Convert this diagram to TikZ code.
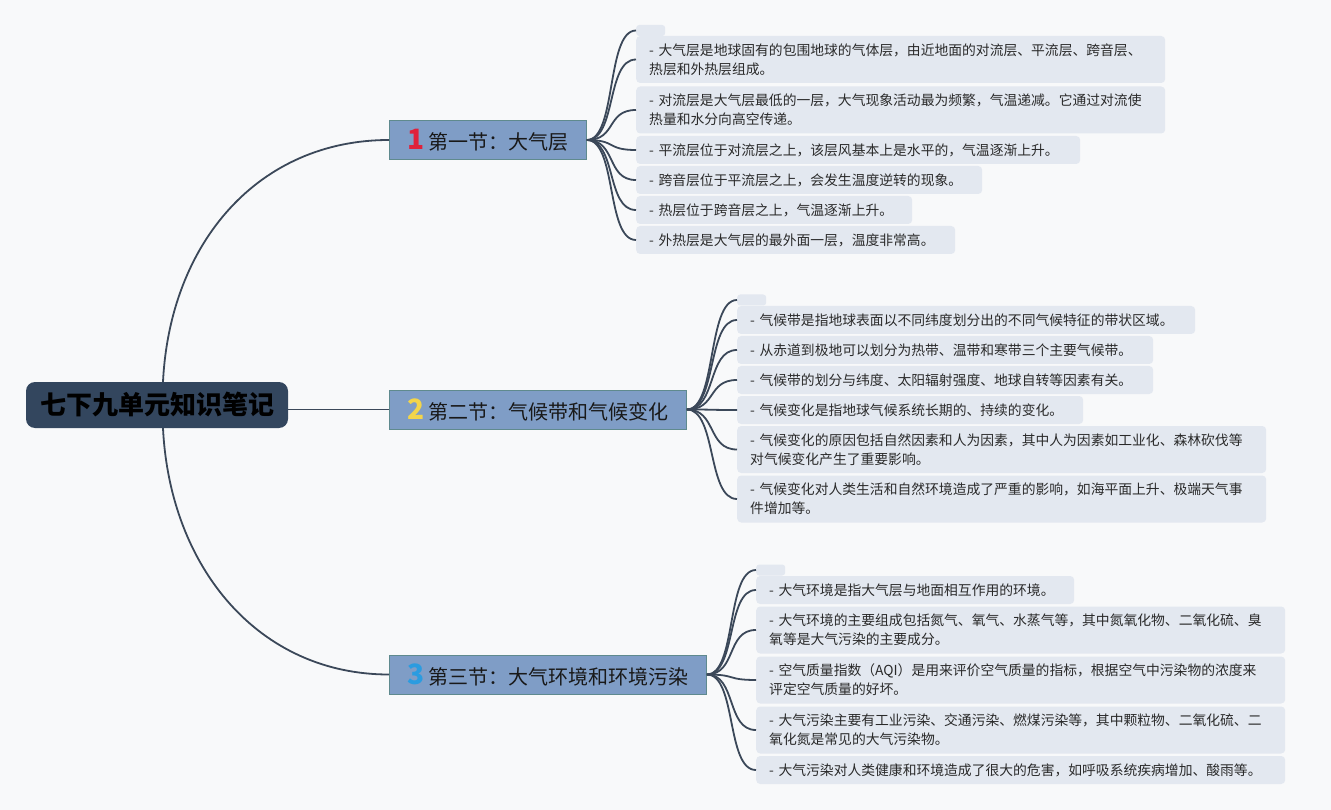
\documentclass[tikz,border=0pt]{standalone}
\usepackage{fontspec}
\setmainfont{Noto Sans CJK SC}
\usepackage{tikz}

\definecolor{pagebg}{HTML}{F8F9FA}
\definecolor{rootfill}{HTML}{33465E}
\definecolor{secfill}{HTML}{7F9DC6}
\definecolor{secedge}{HTML}{5F8A8E}
\definecolor{leaffill}{HTML}{E3E8F0}
\definecolor{leaftext}{HTML}{2A2A2A}
\definecolor{limbgray}{HTML}{3B4859}
\definecolor{numred}{HTML}{E0213B}
\definecolor{numyellow}{HTML}{F3D54A}
\definecolor{numblue}{HTML}{2B9CE0}

\begin{document}
\begin{tikzpicture}[x=1pt, y=-1pt,
		root/.style={fill=rootfill, rounded corners=9pt, minimum width=262pt, minimum height=46pt, inner sep=0pt, text=black, font=\bfseries\fontsize{26pt}{30pt}\selectfont},
		sec/.style={fill=secfill, draw=secedge, line width=0.8pt, anchor=west, minimum width=#1, minimum height=39pt, inner sep=0pt, text=black!90, font=\fontsize{20pt}{24pt}\selectfont},
		leaf/.style={fill=leaffill, rounded corners=4pt, anchor=west, text width=#1, inner xsep=13pt, inner ysep=2pt, minimum height=28pt, align=left, text=leaftext, font=\fontsize{13.8pt}{19pt}\selectfont},
		tall/.style={minimum height=47pt},
		tab/.style={fill=leaffill, rounded corners=3pt, anchor=west, minimum width=29pt, minimum height=11pt, inner sep=0pt},
		limb/.style={draw=limbgray, line width=1.8pt},
		twig/.style={draw=limbgray, line width=1.8pt, to path={.. controls +(30,0) and +(-30,0) .. (\tikztotarget)}}]
		\fill [pagebg] (0,0) rectangle (1331,810);
		
		\node[root] (root) at (157,405) {七下九单元知识笔记};
		
		\node[sec=197pt] (s1) at (389,140) {{\color{numred}\fontsize{28pt}{28pt}\selectfont\bfseries 1} 第一节：大气层};
		\node[sec=297pt] (s2) at (389,409.5) {{\color{numyellow}\fontsize{28pt}{28pt}\selectfont\bfseries 2} 第二节：气候带和气候变化};
		\node[sec=317pt] (s3) at (389,674.5) {{\color{numblue}\fontsize{28pt}{28pt}\selectfont\bfseries 3} 第三节：大气环境和环境污染};
		
		% first section
		\node[tab] (a0) at (636,30.5) {};
		\node[leaf=503pt, tall] (a1) at (636,59.5) {- 大气层是地球固有的包围地球的气体层，由近地面的对流层、平流层、跨音层、\\热层和外热层组成。};
		\node[leaf=503pt, tall] (a2) at (636,110) {- 对流层是大气层最低的一层，大气现象活动最为频繁，气温递减。它通过对流使\\热量和水分向高空传递。};
		\node[leaf=418pt] (a3) at (636,150) {- 平流层位于对流层之上，该层风基本上是水平的，气温逐渐上升。};
		\node[leaf=320pt] (a4) at (636,180) {- 跨音层位于平流层之上，会发生温度逆转的现象。};
		\node[leaf=250pt] (a5) at (636,210) {- 热层位于跨音层之上，气温逐渐上升。};
		\node[leaf=293pt] (a6) at (636,240) {- 外热层是大气层的最外面一层，温度非常高。};
		
		% second section
		\node[tab] (b0) at (737,300) {};
		\node[leaf=432pt] (b1) at (737,320) {- 气候带是指地球表面以不同纬度划分出的不同气候特征的带状区域。};
		\node[leaf=390pt] (b2) at (737,350) {- 从赤道到极地可以划分为热带、温带和寒带三个主要气候带。};
		\node[leaf=390pt] (b3) at (737,380) {- 气候带的划分与纬度、太阳辐射强度、地球自转等因素有关。};
		\node[leaf=320pt] (b4) at (737,410) {- 气候变化是指地球气候系统长期的、持续的变化。};
		\node[leaf=503pt, tall] (b5) at (737,449.5) {- 气候变化的原因包括自然因素和人为因素，其中人为因素如工业化、森林砍伐等\\对气候变化产生了重要影响。};
		\node[leaf=503pt, tall] (b6) at (737,499) {- 气候变化对人类生活和自然环境造成了严重的影响，如海平面上升、极端天气事\\件增加等。};
		
		% third section
		\node[tab] (c0) at (756,570) {};
		\node[leaf=292pt] (c1) at (756,590) {- 大气环境是指大气层与地面相互作用的环境。};
		\node[leaf=503pt, tall] (c2) at (756,630) {- 大气环境的主要组成包括氮气、氧气、水蒸气等，其中氮氧化物、二氧化硫、臭\\氧等是大气污染的主要成分。};
		\node[leaf=503pt, tall] (c3) at (756,680) {- 空气质量指数（AQI）是用来评价空气质量的指标，根据空气中污染物的浓度来\\评定空气质量的好坏。};
		\node[leaf=503pt, tall] (c4) at (756,730) {- 大气污染主要有工业污染、交通污染、燃煤污染等，其中颗粒物、二氧化硫、二\\氧化氮是常见的大气污染物。};
		\node[leaf=503pt] (c5) at (756,770) {- 大气污染对人类健康和环境造成了很大的危害，如呼吸系统疾病增加、酸雨等。};
		
		\draw[limb] ([xshift=6pt]root.north) .. controls +(7,-140) and +(-130,0) .. (s1.west);
		\draw[limb] (root.east |- s2.west) -- (s2.west);
		\draw[limb] ([xshift=6pt]root.south) .. controls +(7,140) and +(-130,0) .. (s3.west);
		
		\draw[twig] (s1.east) to (a0.west);
		\draw[twig] (s1.east) to (a1.west);
		\draw[twig] (s1.east) to (a2.west);
		\draw[twig] (s1.east) to (a3.west);
		\draw[twig] (s1.east) to (a4.west);
		\draw[twig] (s1.east) to (a5.west);
		\draw[twig] (s1.east) to (a6.west);
		
		\draw[twig] (s2.east) to (b0.west);
		\draw[twig] (s2.east) to (b1.west);
		\draw[twig] (s2.east) to (b2.west);
		\draw[twig] (s2.east) to (b3.west);
		\draw[twig] (s2.east) to (b4.west);
		\draw[twig] (s2.east) to (b5.west);
		\draw[twig] (s2.east) to (b6.west);
		
		\draw[twig] (s3.east) to (c0.west);
		\draw[twig] (s3.east) to (c1.west);
		\draw[twig] (s3.east) to (c2.west);
		\draw[twig] (s3.east) to (c3.west);
		\draw[twig] (s3.east) to (c4.west);
		\draw[twig] (s3.east) to (c5.west);
	\end{tikzpicture}
\end{document}
